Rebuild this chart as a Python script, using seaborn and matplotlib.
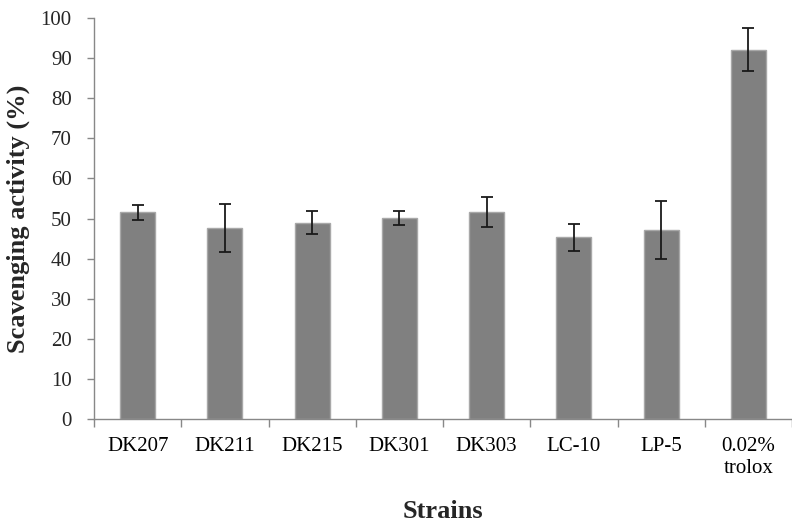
import pandas as pd
import numpy as np
import matplotlib
matplotlib.use("Agg")
import matplotlib.pyplot as plt
import seaborn as sns

# ----------------------------
# Data
# ----------------------------

strains = ["DK207", "DK211", "DK215", "DK301", "DK303", "LC-10", "LP-5", "0.02%\ntrolox"]
activity = [51.5, 47.6, 49.0, 50.2, 51.6, 45.3, 47.1, 92.1]
errors = [1.9, 6.0, 2.9, 1.7, 3.7, 3.4, 7.2, 5.3]

df = pd.DataFrame({"strain": strains, "activity": activity})

# ----------------------------
# Plot
# ----------------------------

sns.set_style("white")
plt.rcParams["font.family"] = ["Liberation Serif", "DejaVu Serif"]

fig = plt.figure(figsize=(7.92, 5.32), dpi=100)
ax = fig.add_axes([94 / 792, 1 - 419 / 532, 1 - 94 / 792, 401 / 532])

sns.barplot(
    data=df,
    x="strain",
    y="activity",
    color="#808080",
    edgecolor="#a8a8a8",
    linewidth=1,
    width=0.4,
    saturation=1,
    errorbar=None,
    ax=ax
)

ax.errorbar(
    x=np.arange(len(strains)),
    y=activity,
    yerr=errors,
    fmt="none",
    ecolor="#1a1a1a",
    elinewidth=1.3,
    capsize=4,
    capthick=1.3
)

ax.set_ylim(0, 100)
ax.set_xlim(-0.5, 7.405)
ax.set_yticks(range(0, 101, 10))

# tick marks between categories, no marks under the bars
ax.set_xticks(np.arange(-0.5, 8, 1), minor=True)
ax.tick_params(axis="x", which="major", length=0, labelsize=15, pad=13, colors="black")
ax.tick_params(axis="x", which="minor", length=6, width=1, color="#888888", direction="out")
ax.tick_params(axis="y", length=5, width=1, color="#888888", direction="out", labelsize=15, pad=11)
ax.tick_params(axis="both", bottom=True, left=True)
ax.xaxis.set_tick_params(which="minor", bottom=True)

for side in ["top", "right"]:
    ax.spines[side].set_visible(False)
for side in ["left", "bottom"]:
    ax.spines[side].set_color("#888888")
    ax.spines[side].set_linewidth(1)

ax.set_xlabel("Strains", fontsize=19, fontweight="bold", labelpad=16)
ax.set_ylabel("Scavenging activity (%)", fontsize=19, fontweight="bold", labelpad=8)

plt.savefig("out.png", dpi=100)
